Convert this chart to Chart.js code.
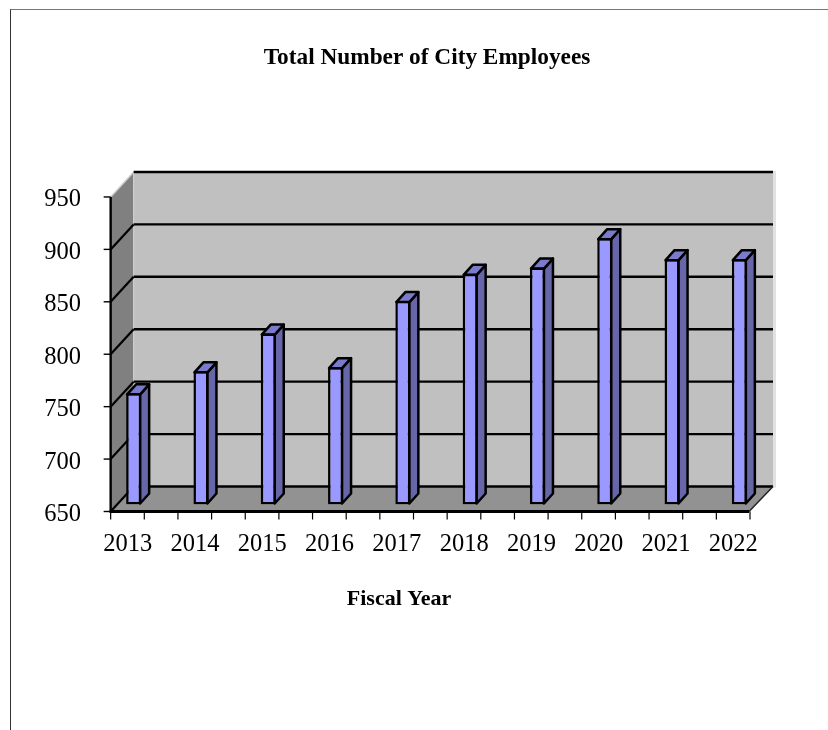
<!DOCTYPE html>
<html>
<head>
<meta charset="utf-8">
<title>Total Number of City Employees</title>
<style>
  html, body { margin: 0; padding: 0; background: #fff; overflow: hidden; }
  #frame {
    position: absolute; left: 10px; top: 9px; right: 0; bottom: 0;
    border-top: 1px solid #777; border-left: 1.5px solid #333;
  }
  #wrap { position: absolute; left: 0; top: 0; width: 828px; height: 730px; }
</style>
<script src="https://cdn.jsdelivr.net/npm/chart.js@4/dist/chart.umd.js"></script>
</head>
<body>
<div id="frame"></div>
<div id="wrap"><canvas id="employeesChart" width="828" height="730"></canvas></div>
<script>
const fiscalYears = ["2013", "2014", "2015", "2016", "2017", "2018", "2019", "2020", "2021", "2022"];
const employees = [756, 777, 813, 781, 844, 870, 876, 904, 884, 884];
const yTicks = [650, 700, 750, 800, 850, 900, 950];

const SERIF = '"Liberation Serif", serif';

// Depth of the box and of each column, in pixels
const BOX_DX = 23;
const BOX_DY = 25;
const BAR_DX = 9;
const BAR_DY = 10;

const WALL_BACK = "#c0c0c0";
const WALL_SIDE = "#808080";
const FLOOR = "#929292";
const BAR_FRONT = "#9999ff";
const BAR_TOP = "#7b7bcc";
const BAR_SIDE = "#6666a8";

function line(ctx, x1, y1, x2, y2, width, color) {
  ctx.beginPath();
  ctx.moveTo(x1, y1);
  ctx.lineTo(x2, y2);
  ctx.lineWidth = width;
  ctx.strokeStyle = color || "#000";
  ctx.stroke();
}

function poly(ctx, points, fill) {
  ctx.beginPath();
  points.forEach((p, i) => (i ? ctx.lineTo(p[0], p[1]) : ctx.moveTo(p[0], p[1])));
  ctx.closePath();
  ctx.fillStyle = fill;
  ctx.fill();
}

// The walls, floor, axes and the caption under the axis
const boxPlugin = {
  id: "box",
  beforeDatasetsDraw(chart) {
    const { ctx } = chart;
    const xs = chart.scales.x;
    const ys = chart.scales.y;
    const backLeft = xs.getPixelForValue(0);
    const backRight = xs.right;
    const frontLeft = backLeft - BOX_DX;
    const frontRight = backRight - BOX_DX - 1;
    // scale values sit on the columns' plane, the front edge is 7px lower
    const frontY = (v) => ys.getPixelForValue(v) + 7;
    const backY = (v) => frontY(v) - BOX_DY;
    const yMin = yTicks[0];
    const yMax = yTicks[yTicks.length - 1];

    ctx.save();
    ctx.lineCap = "butt";

    // soft edge around the back wall
    ctx.fillStyle = "#e2e2e2";
    ctx.fillRect(backRight, backY(yMax) - 1, 3, backY(yMin) - backY(yMax) + 2);

    poly(ctx, [[backLeft, backY(yMax)], [backRight, backY(yMax)], [backRight, backY(yMin)], [backLeft, backY(yMin)]], WALL_BACK);
    poly(ctx, [[frontLeft, frontY(yMax)], [backLeft, backY(yMax)], [backLeft, backY(yMin)], [frontLeft, frontY(yMin)]], WALL_SIDE);
    poly(ctx, [[frontLeft, frontY(yMin)], [backLeft, backY(yMin)], [backRight, backY(yMin)], [frontRight, frontY(yMin)]], FLOOR);

    line(ctx, frontLeft, frontY(yMax), backLeft, backY(yMax), 1.5, "#cfcfcf");
    line(ctx, backLeft, backY(yMax), backLeft, backY(yMin), 1, "#d4d4d4");

    yTicks.forEach((v) => {
      const y = frontY(v);
      line(ctx, frontLeft - 7, y, frontLeft, y, 1.4);
      line(ctx, backLeft, backY(v), backRight, backY(v), 2.4);
      if (v !== yMax) line(ctx, frontLeft, y, backLeft, backY(v), 2.2);
    });

    line(ctx, frontLeft, frontY(yMax), frontLeft, frontY(yMin) + 1, 2.4);
    line(ctx, frontRight, frontY(yMin), backRight, backY(yMin), 1.5, "#222");
    line(ctx, frontLeft - 1, frontY(yMin), frontRight, frontY(yMin), 3);

    // two tick marks per category along the front edge
    const step = (xs.getPixelForValue(1) - xs.getPixelForValue(0)) / 2;
    for (let x = frontLeft; x <= frontRight + 1; x += step) {
      line(ctx, x, frontY(yMin), x, frontY(yMin) + 8, 1.2);
    }

    // top and side faces of the columns; the dataset draws the front faces over them
    chart.getDatasetMeta(0).data.forEach((bar) => {
      const { x, y, base, width } = bar.getProps(["x", "y", "base", "width"], true);
      const left = x - width / 2;
      const right = x + width / 2;
      ctx.lineJoin = "round";
      ctx.lineWidth = 2.5;
      ctx.strokeStyle = "#000";
      poly(ctx, [[right - 1, y + 1], [right - 1 + BAR_DX, y + 1 - BAR_DY], [right - 1 + BAR_DX, base - 1 - BAR_DY], [right - 1, base - 1]], BAR_SIDE);
      ctx.stroke();
      poly(ctx, [[left + 1, y + 1], [left + 1 + BAR_DX, y + 1 - BAR_DY], [right - 1 + BAR_DX, y + 1 - BAR_DY], [right - 1, y + 1]], BAR_TOP);
      ctx.stroke();
    });

    ctx.restore();
  },
  afterDraw(chart) {
    const { ctx } = chart;
    ctx.save();
    ctx.font = `bold 22px ${SERIF}`;
    ctx.fillStyle = "#000";
    ctx.textAlign = "center";
    ctx.textBaseline = "middle";
    ctx.fillText("Fiscal Year", 399, 599);
    ctx.restore();
  },
};

new Chart(document.getElementById("employeesChart"), {
  type: "bar",
  data: {
    labels: fiscalYears,
    datasets: [
      {
        label: "City Employees",
        data: employees,
        base: yTicks[0],
        backgroundColor: BAR_FRONT,
        borderColor: "#000",
        borderWidth: 2.5,
        borderSkipped: false,
        barPercentage: 0.223,
        categoryPercentage: 1,
      },
    ],
  },
  plugins: [boxPlugin],
  options: {
    responsive: false,
    animation: false,
    layout: { padding: { left: 26, right: 0, top: 0, bottom: 169.5 } },
    plugins: {
      legend: { display: false },
      tooltip: { enabled: false },
      title: {
        display: true,
        text: "Total Number of City Employees",
        color: "#000",
        font: { family: SERIF, size: 23.3, weight: "bold" },
        padding: { top: 44, bottom: 118 },
      },
    },
    scales: {
      x: {
        grid: { display: false },
        border: { display: false },
        afterFit(scale) {
          scale.height = 56;
        },
        ticks: {
          color: "#000",
          font: { family: SERIF, size: 24.5 },
          padding: 17,
          labelOffset: -6,
          autoSkip: false,
          maxRotation: 0,
        },
      },
      y: {
        min: 650,
        max: 950,
        grid: { display: false },
        border: { display: false },
        afterFit(scale) {
          scale.width = 74;
        },
        afterBuildTicks(scale) {
          scale.ticks = yTicks.map((value) => ({ value }));
        },
        ticks: {
          color: "#000",
          font: { family: SERIF, size: 24.5 },
          padding: 11,
          labelOffset: 10,
        },
      },
      // empty axis that holds the right margin, so the title centres on the whole page
      spacer: {
        position: "right",
        grid: { display: false },
        border: { display: false },
        ticks: { display: false },
        afterFit(scale) {
          scale.width = 55;
        },
      },
    },
  },
});
</script>
</body>
</html>
